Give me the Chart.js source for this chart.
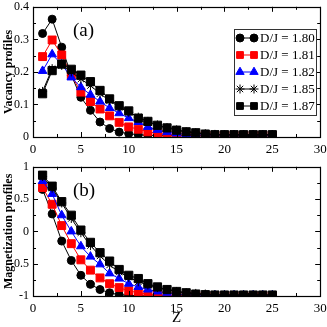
<!DOCTYPE html>
<html><head><meta charset="utf-8">
<script src="https://cdn.jsdelivr.net/npm/chart.js@4"></script>
<style>
html,body{margin:0;padding:0;background:#fff;overflow:hidden;width:327px;height:327px}
#a{position:absolute;left:0;top:0;width:327px;height:160px}
#b{position:absolute;left:0;top:160px;width:327px;height:167px}
</style></head><body>
<div id="a"><canvas id="ca"></canvas></div>
<div id="b"><canvas id="cb"></canvas></div>
<script>
const zValues = [1,2,3,4,5,6,7,8,9,10,11,12,13,14,15,16,17,18,19,20,21,22,23,24,25];
const seriesNames = ["D/J = 1.80","D/J = 1.81","D/J = 1.82","D/J = 1.85","D/J = 1.87"];

const vac180 = [0.318,0.362,0.276,0.190,0.122,0.082,0.046,0.026,0.015,0.010,0.007,0.005,0.004,0.004,0.004,0.004,0.004,0.004,0.004,0.004,0.004,0.004,0.004,0.004,0.004];
const vac181 = [0.247,0.298,0.252,0.190,0.138,0.109,0.086,0.065,0.045,0.031,0.024,0.016,0.011,0.008,0.006,0.005,0.005,0.005,0.005,0.005,0.005,0.005,0.005,0.005,0.005];
const vac182 = [0.203,0.254,0.223,0.183,0.153,0.130,0.109,0.089,0.073,0.058,0.046,0.031,0.022,0.015,0.011,0.008,0.007,0.006,0.006,0.006,0.006,0.006,0.006,0.006,0.006];
const vac185 = [0.140,0.210,0.220,0.200,0.178,0.158,0.133,0.112,0.092,0.076,0.061,0.048,0.037,0.029,0.022,0.016,0.013,0.010,0.008,0.007,0.007,0.007,0.007,0.007,0.007];
const vac187 = [0.133,0.204,0.224,0.208,0.190,0.170,0.143,0.117,0.096,0.080,0.058,0.048,0.036,0.028,0.021,0.016,0.013,0.009,0.007,0.007,0.007,0.007,0.007,0.007,0.007];

const mag180 = [0.65,0.27,-0.15,-0.45,-0.68,-0.82,-0.90,-0.95,-0.98,-0.99,-0.995,-1,-1,-1,-1,-1,-1,-1,-1,-1,-1,-1,-1,-1,-1];
const mag181 = [0.68,0.42,0.09,-0.19,-0.44,-0.60,-0.72,-0.81,-0.87,-0.92,-0.95,-0.97,-0.98,-0.99,-0.99,-0.995,-0.995,-1,-1,-1,-1,-1,-1,-1,-1];
const mag182 = [0.78,0.58,0.25,0.00,-0.23,-0.39,-0.51,-0.65,-0.73,-0.81,-0.86,-0.90,-0.93,-0.95,-0.97,-0.98,-0.985,-0.99,-0.99,-0.99,-0.99,-0.99,-0.99,-0.99,-0.99];
const mag185 = [0.85,0.67,0.44,0.20,-0.02,-0.22,-0.38,-0.52,-0.63,-0.71,-0.78,-0.83,-0.87,-0.90,-0.93,-0.95,-0.96,-0.97,-0.98,-0.985,-0.985,-0.985,-0.985,-0.985,-0.985];
const mag187 = [0.87,0.70,0.46,0.25,0.02,-0.17,-0.33,-0.46,-0.59,-0.68,-0.73,-0.81,-0.86,-0.90,-0.93,-0.95,-0.97,-0.98,-0.985,-0.985,-0.985,-0.985,-0.985,-0.985,-0.985];

const xTickLabels = ["0","5","10","15","20","25","30"];
const vacTickLabels = ["0","0.1","0.2","0.3","0.4"];
const magTickLabels = ["-1","-0.5","0","0.5","1"];

const styles = [
  {color:'#000000', pointStyle:'circle', r:4},
  {color:'#ff0000', pointStyle:'rect', r:5.6},
  {color:'#0000ff', pointStyle:'triangle', r:5},
  {color:'#000000', pointStyle:'star', r:4.5},
  {color:'#000000', pointStyle:'rect', r:5.8}
];

const SERIF = '"Liberation Serif","Times New Roman",serif';

function makeDatasets(arrs){
  return arrs.map((arr,i)=>({
    label: seriesNames[i],
    data: arr.map((v,k)=>({x:zValues[k], y:v})),
    borderColor: styles[i].color,
    backgroundColor: styles[i].color,
    pointBackgroundColor: styles[i].color,
    pointBorderColor: styles[i].color,
    pointStyle: styles[i].pointStyle,
    pointRadius: styles[i].r,
    pointBorderWidth: 1,
    borderWidth: 1,
    order: 4 - i
  }));
}

const framePlugin = {
  id:'frame',
  afterDraw(chart, args, opts){
    const {ctx, chartArea:a, scales:{x, y}} = chart;
    ctx.save();
    ctx.strokeStyle = '#000';
    ctx.lineWidth = 1;
    ctx.beginPath();
    for (let v = 0; v <= 30.001; v += 2.5){
      const px = Math.round(x.getPixelForValue(v)) + 0.5;
      const len = (Math.abs(v/5 - Math.round(v/5)) < 1e-6) ? 5 : 3;
      ctx.moveTo(px, a.bottom); ctx.lineTo(px, a.bottom - len);
      ctx.moveTo(px, a.top); ctx.lineTo(px, a.top + len);
    }
    const step = opts.yStep;
    for (let v = y.min; v <= y.max + 1e-9; v += step/2){
      const py = Math.round(y.getPixelForValue(v)) + 0.5;
      const k = (v - y.min)/step;
      const len = (Math.abs(k - Math.round(k)) < 1e-6) ? 5 : 3;
      ctx.moveTo(a.left, py); ctx.lineTo(a.left + len, py);
      ctx.moveTo(a.right, py); ctx.lineTo(a.right - len, py);
    }
    ctx.stroke();
    ctx.lineWidth = 1.2;
    ctx.strokeRect(Math.round(a.left)+0.5, Math.round(a.top)+0.5, Math.round(a.right-a.left), Math.round(a.bottom-a.top));
    ctx.fillStyle = '#000';
    ctx.font = '19px ' + SERIF;
    ctx.textBaseline = 'middle';
    ctx.textAlign = 'left';
    ctx.fillText(opts.panel, a.left + 40, a.top + 24);
    ctx.restore();
  }
};

const legendPlugin = {
  id:'boxLegend',
  afterDraw(chart, args, opts){
    if (!opts.show) return;
    const {ctx, chartArea:a} = chart;
    const bx = Math.round(a.right) - 86, by = Math.round(a.top) + 22, bw = 82, bh = 86;
    ctx.save();
    ctx.fillStyle = '#fff';
    ctx.fillRect(bx, by, bw, bh);
    ctx.strokeStyle = '#333';
    ctx.lineWidth = 1;
    ctx.strokeRect(bx+0.5, by+0.5, bw, bh);
    chart.data.datasets.forEach((ds,i)=>{
      const cy = by + 9 + i*17;
      const x1 = bx + 6, x2 = bx + 20;
      ctx.strokeStyle = ds.borderColor;
      ctx.lineWidth = 1;
      ctx.beginPath(); ctx.moveTo(x1, cy); ctx.lineTo(x2, cy); ctx.stroke();
      ctx.fillStyle = ds.pointBackgroundColor;
      ctx.strokeStyle = ds.pointBorderColor;
      const po = {pointStyle: ds.pointStyle, radius: Math.min(ds.pointRadius, 4.8), rotation: 0, borderWidth: 1};
      Chart.helpers.drawPoint(ctx, po, x1, cy);
      Chart.helpers.drawPoint(ctx, po, x2, cy);
      ctx.fillStyle = '#000';
      ctx.font = '13px ' + SERIF;
      ctx.textBaseline = 'middle';
      ctx.textAlign = 'left';
      ctx.fillText(ds.label, bx + 26, cy + 1);
    });
    ctx.restore();
  }
};

function makeChart(id, arrs, yMin, yMax, yStep, yLabels, yTitle, panel, xHeight, showLegend, showXTitle, padTop){
  return new Chart(document.getElementById(id), {
    type:'line',
    data:{datasets: makeDatasets(arrs)},
    plugins:[framePlugin, legendPlugin],
    options:{
      responsive:true, maintainAspectRatio:false, animation:false,
      layout:{padding:{left:0, right:6, top:padTop, bottom:0}},
      plugins:{legend:{display:false}, tooltip:{enabled:false},
        frame:{yStep, panel}, boxLegend:{show:showLegend}},
      scales:{
        x:{type:'linear', min:0, max:30,
          grid:{display:false, drawTicks:false},
          border:{display:false},
          ticks:{stepSize:5, padding:5, maxRotation:0, color:'#000', font:{family:SERIF, size:13},
            callback:(v)=>{const i = Math.round(v/5); return xTickLabels[i];}},
          title:{display:showXTitle, text:'Z', color:'#000', font:{family:SERIF, size:15}, padding:{top:0,bottom:0}},
          afterFit:(s)=>{s.height = xHeight; s.paddingLeft = 0; s.paddingRight = 0;}
        },
        y:{type:'linear', min:yMin, max:yMax,
          grid:{display:false, drawTicks:false},
          border:{display:false},
          ticks:{stepSize:yStep, padding:4, color:'#000', font:{family:SERIF, size:12},
            callback:(v)=>{const i = Math.round((v - yMin)/yStep); return yLabels[i];}},
          title:{display:true, text:yTitle, color:'#000', font:{family:SERIF, size:12, weight:'bold'}, padding:{top:2,bottom:0}},
          afterFit:(s)=>{s.width = 33; s.paddingTop = 0; s.paddingBottom = 0;}
        }
      }
    }
  });
}

makeChart('ca', [vac180,vac181,vac182,vac185,vac187], 0, 0.4, 0.1, vacTickLabels, 'Vacancy profiles', '(a)', 23, true, false, 5);
makeChart('cb', [mag180,mag181,mag182,mag185,mag187], -1, 1, 0.5, magTickLabels, 'Magnetization profiles', '(b)', 31, false, true, 4);
</script>
</body></html>
